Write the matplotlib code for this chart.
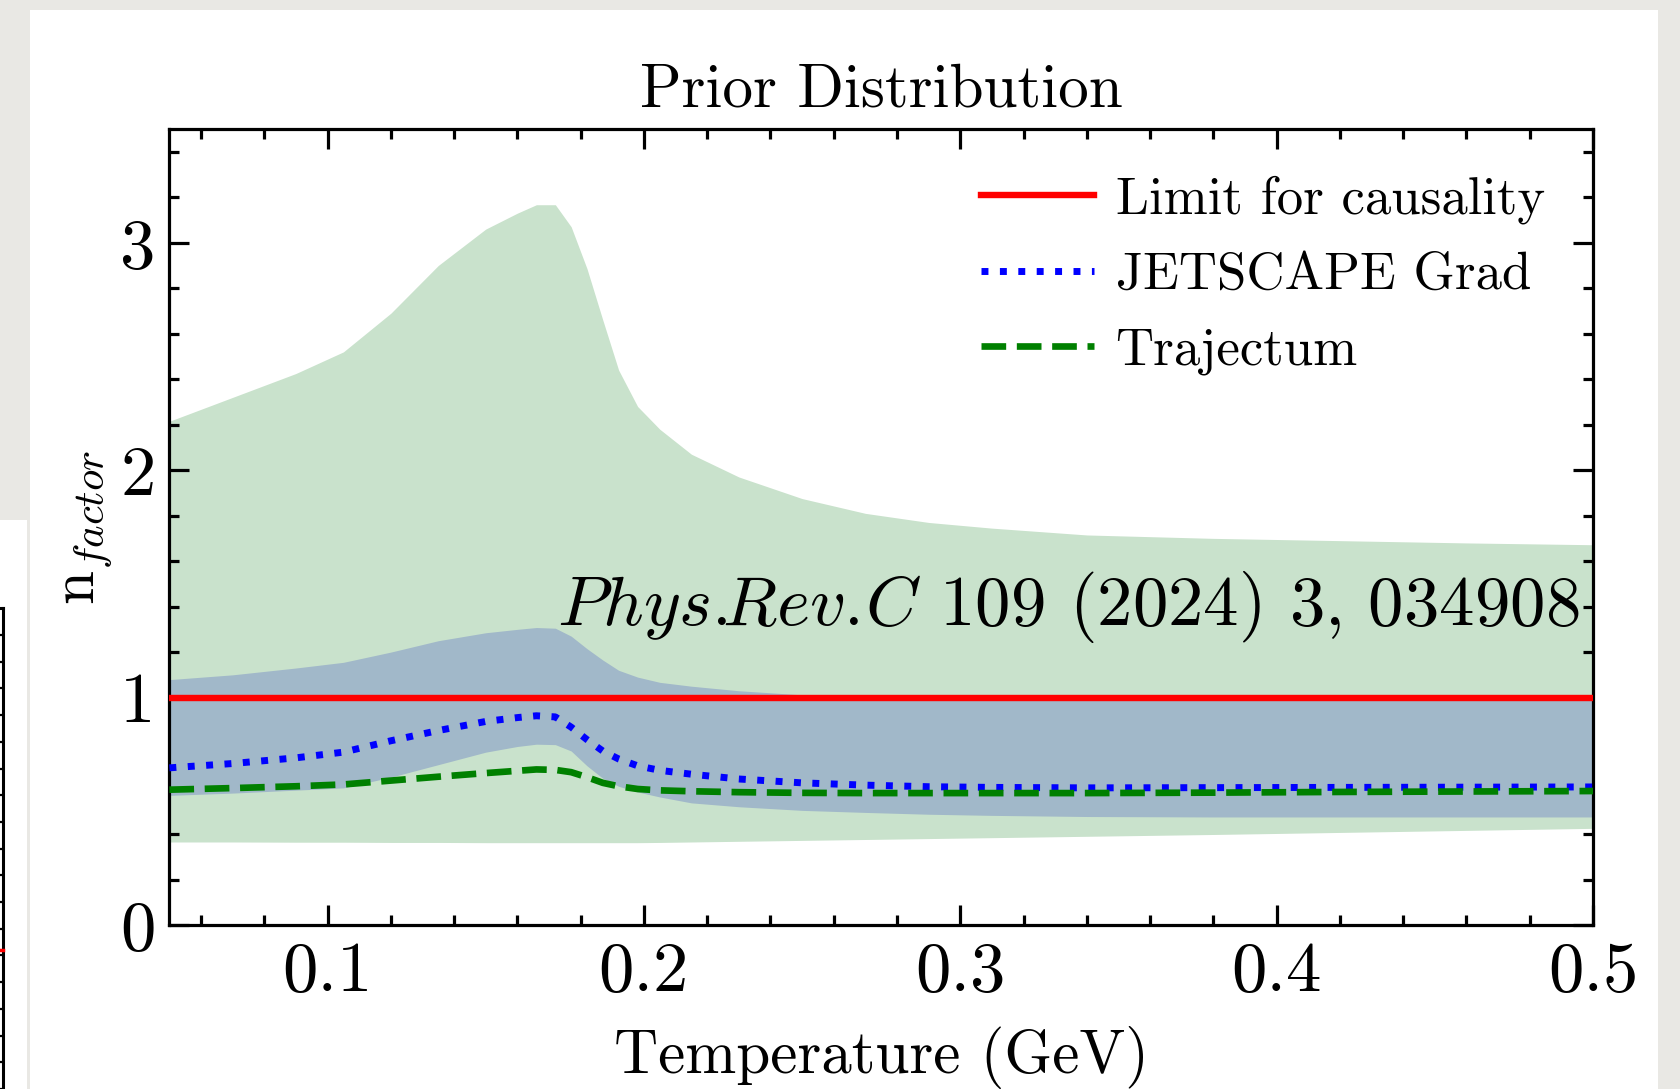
import matplotlib
matplotlib.use("Agg")
import matplotlib.pyplot as plt
from matplotlib.patches import Rectangle
from matplotlib.lines import Line2D
from matplotlib.ticker import FixedLocator, MultipleLocator

plt.rcParams["font.family"] = ["cmr10"]
plt.rcParams["mathtext.fontset"] = "cm"
plt.rcParams["axes.unicode_minus"] = False

# ---- data -------------------------------------------------------------
temperature = [0.05, 0.07, 0.09, 0.105, 0.12, 0.135, 0.15, 0.16, 0.166, 0.172,
               0.177, 0.182, 0.187, 0.192, 0.198, 0.205, 0.215, 0.23, 0.25,
               0.27, 0.29, 0.31, 0.34, 0.38, 0.42, 0.46, 0.5]

prior_upper = [2.215, 2.32, 2.425, 2.52, 2.69, 2.90, 3.06, 3.13, 3.167, 3.167,
               3.07, 2.886, 2.66, 2.44, 2.28, 2.18, 2.07, 1.97, 1.875,
               1.81, 1.77, 1.745, 1.715, 1.70, 1.69, 1.68, 1.672]
prior_lower = [0.365, 0.365, 0.364, 0.364, 0.363, 0.363, 0.362, 0.362, 0.362, 0.362,
               0.362, 0.362, 0.362, 0.362, 0.362, 0.363, 0.365, 0.368, 0.372,
               0.376, 0.38, 0.384, 0.39, 0.398, 0.407, 0.416, 0.425]

inner_upper = [1.079, 1.10, 1.13, 1.155, 1.20, 1.25, 1.285, 1.30, 1.308, 1.305,
               1.27, 1.215, 1.165, 1.12, 1.09, 1.067, 1.05, 1.03, 1.012,
               1.005, 1.0, 1.0, 1.0, 1.0, 1.0, 1.0, 1.0]
inner_lower = [0.570, 0.58, 0.593, 0.603, 0.65, 0.705, 0.76, 0.785, 0.795, 0.793,
               0.765, 0.70, 0.645, 0.61, 0.585, 0.563, 0.537, 0.52, 0.504,
               0.495, 0.487, 0.482, 0.477, 0.475, 0.475, 0.475, 0.475]

jetscape_grad = [0.691, 0.71, 0.735, 0.76, 0.81, 0.855, 0.895, 0.912, 0.92, 0.915,
                 0.87, 0.815, 0.765, 0.73, 0.70, 0.68, 0.663, 0.642, 0.625,
                 0.615, 0.608, 0.605, 0.603, 0.604, 0.605, 0.606, 0.607]
trajectum = [0.595, 0.602, 0.61, 0.618, 0.635, 0.652, 0.668, 0.678, 0.684, 0.682,
             0.672, 0.65, 0.625, 0.61, 0.598, 0.592, 0.588, 0.584, 0.581,
             0.58, 0.58, 0.58, 0.58, 0.582, 0.585, 0.587, 0.589]

causality_limit = 1.0

series_labels = ["Limit for causality", "JETSCAPE Grad", "Trajectum"]
x_ticks = [0.1, 0.2, 0.3, 0.4, 0.5]
x_tick_labels = ["0.1", "0.2", "0.3", "0.4", "0.5"]
y_ticks = [0, 1, 2, 3]
y_tick_labels = ["0", "1", "2", "3"]

# ---- figure -----------------------------------------------------------
W, H = 1681, 1089
fig = plt.figure(figsize=(W / 100, H / 100), dpi=100)
fig.patch.set_facecolor("#e9e8e4")


def fx(px):
    return px / W


def fy(py):
    return 1 - py / H


# slide cards
fig.add_artist(Rectangle((fx(0), fy(H)), fx(27.5), fy(520) - fy(H),
                         transform=fig.transFigure, facecolor="white",
                         edgecolor="none", zorder=0))
fig.add_artist(Rectangle((fx(30), fy(H)), fx(1658) - fx(30), fy(10) - fy(H),
                         transform=fig.transFigure, facecolor="white",
                         edgecolor="none", zorder=0))

# edge of the neighbouring plot frame
fig.add_artist(Line2D([fx(3.5), fx(3.5)], [fy(608), fy(H)], transform=fig.transFigure,
                      color="black", lw=2.2, zorder=1))
fig.add_artist(Line2D([fx(0), fx(3.5)], [fy(608), fy(608)], transform=fig.transFigure,
                      color="black", lw=2.2, zorder=1))
ty = 635
while ty < H:
    fig.add_artist(Line2D([fx(0), fx(3.5)], [fy(ty), fy(ty)], transform=fig.transFigure,
                          color="black", lw=1.6, zorder=1))
    ty += 26.7
fig.add_artist(Line2D([fx(0), fx(3)], [fy(950), fy(950)], transform=fig.transFigure,
                      color="red", lw=2.5, zorder=1))

ax = fig.add_axes([fx(169.4), fy(925), fx(1593) - fx(169.4), fy(129) - fy(925)])
ax.set_zorder(2)

ax.fill_between(temperature, prior_lower, prior_upper, color="#c9e2cc", lw=0, zorder=1)
ax.fill_between(temperature, inner_lower, inner_upper, color="#a1b8c9", lw=0, zorder=2)

ax.axhline(causality_limit, color="#ff0000", lw=4.6, label=series_labels[0], zorder=3)
ax.plot(temperature, jetscape_grad, color="#0000ff", lw=5, ls=":",
        label=series_labels[1], zorder=4)
ax.plot(temperature, trajectum, color="#008000", lw=4.8, ls="--",
        label=series_labels[2], zorder=4)

ax.set_xlim(0.05, 0.5)
ax.set_ylim(0, 3.5)
ax.xaxis.set_major_locator(FixedLocator(x_ticks))
ax.set_xticklabels(x_tick_labels)
ax.yaxis.set_major_locator(FixedLocator(y_ticks))
ax.set_yticklabels(y_tick_labels)
ax.xaxis.set_minor_locator(MultipleLocator(0.02))
ax.yaxis.set_minor_locator(MultipleLocator(0.2))

ax.tick_params(which="both", direction="in", top=True, right=True, width=2.3,
               labelsize=51, colors="black")
ax.tick_params(which="major", length=14.5)
ax.tick_params(which="minor", length=7.5)
ax.tick_params(axis="x", which="major", pad=12)
ax.tick_params(axis="y", which="major", pad=10)
for s in ax.spines.values():
    s.set_linewidth(2.3)

ax.set_title("Prior Distribution", fontsize=44, pad=16)
ax.set_xlabel("Temperature (GeV)", fontsize=44, labelpad=15)
ax.set_ylabel(r"n$_{factor}$", fontsize=44, labelpad=4)

leg = ax.legend(loc="upper left", bbox_to_anchor=((981 - 169.4) / 1423.6, 0.9415),
                frameon=False, fontsize=38, handlelength=2.15, handletextpad=0.4,
                labelspacing=0.53, borderpad=0, borderaxespad=0)

fig.text(fx(557), fy(625), r"$Phys.\!\!Rev.\!C$ 109 (2024) 3, 034908", fontsize=51,
         ha="left", va="baseline", zorder=5)

fig.savefig("out.png", dpi=100, facecolor=fig.get_facecolor())
